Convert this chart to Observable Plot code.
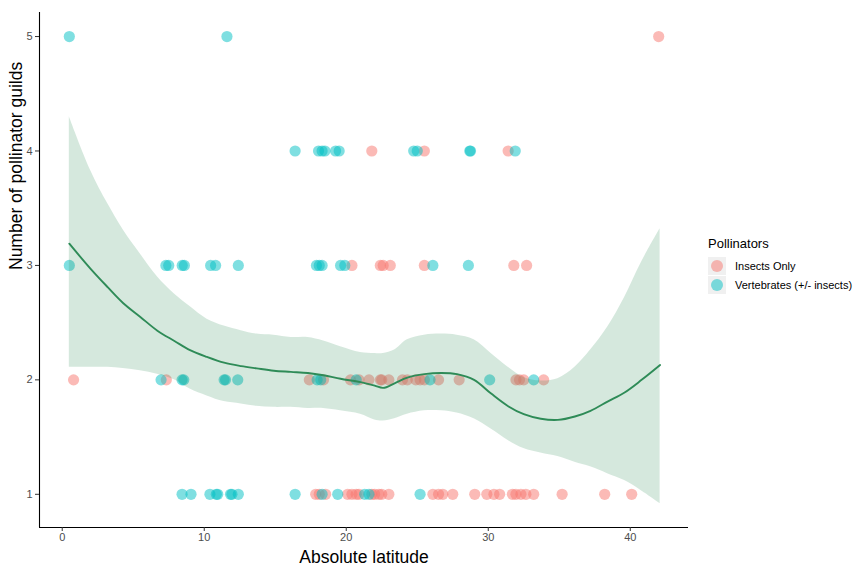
<!DOCTYPE html>
<html>
<head>
<meta charset="utf-8">
<script src="https://cdn.jsdelivr.net/npm/d3@7"></script>
<script src="https://cdn.jsdelivr.net/npm/@observablehq/plot@0.6"></script>
<style>
  html, body { margin: 0; padding: 0; background: #fff; }
  #wrap { position: relative; width: 855px; height: 580px; font-family: "Liberation Sans", Arial, sans-serif; }
  #legend { position: absolute; left: 708px; top: 236px; font-family: "Liberation Sans", Arial, sans-serif; color: #000; }
  #legend .title { font-size: 13px; margin-bottom: 5px; }
  #legend .row { display: flex; align-items: center; height: 19.5px; font-size: 11px; }
  #legend .key { width: 18px; height: 18px; background: #f0f0f0; position: relative; margin-right: 9px; }
  #legend .key span { position: absolute; left: 3px; top: 3px; width: 12px; height: 12px; border-radius: 50%; opacity: 0.5; }
</style>
</head>
<body>
<div id="wrap"></div>
<script>
// Scatter points: absolute latitude by number of pollinator guilds
const insectsLat1 = [17.85, 18.1, 18.55, 20.1, 20.4, 20.7, 20.9, 21.8, 22.0, 22.3, 22.5, 23.0, 26.1, 26.5, 26.8, 27.5, 29.05, 29.9, 30.4, 30.8, 31.7, 31.95, 32.3, 32.65, 33.2, 35.2, 38.2, 40.1];
const insectsLat2 = [0.8, 7.33, 17.4, 18.4, 20.3, 20.9, 21.6, 22.4, 22.5, 23.0, 23.96, 24.3, 24.9, 25.2, 25.5, 26.5, 27.95, 31.95, 32.2, 32.5, 33.9];
const insectsLat3 = [20.4, 22.4, 22.6, 23.1, 25.5, 31.8, 32.7];
const insectsLat4 = [21.8, 25.5, 31.4];
const insectsLat5 = [42.0];

const vertLat1 = [8.44, 9.07, 10.4, 10.85, 10.95, 11.85, 11.95, 12.4, 16.4, 18.3, 19.4, 21.3, 21.6, 25.2];
const vertLat2 = [6.96, 8.44, 8.56, 11.4, 11.5, 12.36, 17.95, 18.2, 20.7, 25.9, 30.1, 33.2];
const vertLat3 = [0.5, 7.3, 7.5, 8.45, 8.6, 10.45, 10.8, 12.4, 17.9, 18.1, 18.3, 19.6, 19.9, 26.1, 28.6];
const vertLat4 = [16.4, 18.05, 18.3, 18.5, 19.25, 19.5, 24.75, 25.0, 28.7, 28.75, 31.9];
const vertLat5 = [0.5, 11.6];

const groups = ["Insects Only", "Vertebrates (+/- insects)"];
const groupColors = ["#F8766D", "#00BFC4"];

// LOESS smooth
const smoothLat = [0.5, 2.0, 3.2, 4.3, 5.5, 6.7, 7.9, 9.0, 10.2, 11.4, 12.6, 13.7, 14.9, 16.1, 17.3, 18.4, 19.6, 21.0, 22.0, 22.6, 23.4, 24.3, 25.5, 26.7, 27.8, 29.0, 30.2, 31.4, 32.5, 33.7, 34.9, 36.1, 37.2, 38.4, 39.6, 40.8, 42.1];
const smoothFit = [3.19, 2.97, 2.81, 2.67, 2.55, 2.43, 2.34, 2.26, 2.20, 2.15, 2.12, 2.10, 2.08, 2.07, 2.06, 2.04, 2.01, 1.98, 1.95, 1.93, 1.97, 2.02, 2.05, 2.06, 2.05, 2.00, 1.88, 1.77, 1.70, 1.66, 1.65, 1.68, 1.73, 1.81, 1.89, 2.00, 2.13];
const smoothHi = [4.30, 3.83, 3.54, 3.31, 3.10, 2.90, 2.75, 2.64, 2.53, 2.47, 2.43, 2.40, 2.39, 2.37, 2.37, 2.34, 2.29, 2.24, 2.23, 2.23, 2.26, 2.35, 2.39, 2.40, 2.39, 2.35, 2.23, 2.11, 2.02, 1.99, 2.01, 2.11, 2.26, 2.46, 2.72, 3.03, 3.32];
const smoothLo = [2.11, 2.11, 2.11, 2.10, 2.08, 2.05, 2.00, 1.92, 1.86, 1.81, 1.79, 1.77, 1.76, 1.76, 1.75, 1.75, 1.73, 1.70, 1.65, 1.64, 1.66, 1.70, 1.73, 1.73, 1.71, 1.66, 1.57, 1.47, 1.40, 1.36, 1.33, 1.28, 1.24, 1.18, 1.12, 1.03, 0.92];

const xTicks = [0, 10, 20, 30, 40];
const yTicks = [1, 2, 3, 4, 5];

// Build tables
const points = [];
[[insectsLat1,1],[insectsLat2,2],[insectsLat3,3],[insectsLat4,4],[insectsLat5,5]].forEach(([arr,g]) => arr.forEach(v => points.push({lat: v, guilds: g, group: groups[0]})));
[[vertLat1,1],[vertLat2,2],[vertLat3,3],[vertLat4,4],[vertLat5,5]].forEach(([arr,g]) => arr.forEach(v => points.push({lat: v, guilds: g, group: groups[1]})));
const smooth = smoothLat.map((x, i) => ({lat: x, fit: smoothFit[i], lo: smoothLo[i], hi: smoothHi[i]}));

const xDomain = [-1.6, 44.1];
const yDomain = [0.71, 5.21];

const chart = Plot.plot({
  width: 855,
  height: 580,
  marginLeft: 39,
  marginRight: 167,
  marginTop: 12,
  marginBottom: 53,
  style: {fontFamily: "'Liberation Sans', Arial, sans-serif", background: "white"},
  x: {domain: xDomain},
  y: {domain: yDomain},
  color: {domain: groups, range: groupColors},
  marks: [
    Plot.dot(points, {x: "lat", y: "guilds", fill: "group", fillOpacity: 0.5, r: 5.6, stroke: null}),
    Plot.areaY(smooth, {x: "lat", y1: "lo", y2: "hi", fill: "#2E8B57", fillOpacity: 0.2, curve: "catmull-rom"}),
    Plot.line(smooth, {x: "lat", y: "fit", stroke: "#2E8B57", strokeWidth: 1.9, curve: "catmull-rom"}),
    Plot.ruleX([xDomain[0]], {y1: yDomain[0], y2: yDomain[1], stroke: "#000", strokeWidth: 1.1}),
    Plot.ruleY([yDomain[0]], {x1: xDomain[0], x2: xDomain[1], stroke: "#000", strokeWidth: 1.1}),
    Plot.axisX(xTicks, {tickSize: 4, tickPadding: 2, fontSize: 11, stroke: "#333", fill: "#4d4d4d", label: null, tickFormat: "d"}),
    Plot.axisY(yTicks, {tickSize: 4, tickPadding: 3, fontSize: 11, stroke: "#333", fill: "#4d4d4d", label: null, tickFormat: "d"}),
    Plot.text(["Absolute latitude"], {frameAnchor: "bottom", dy: 35, fontSize: 17.5, fill: "#000"}),
    Plot.text(["Number of pollinator guilds"], {frameAnchor: "left", dx: -23, rotate: -90, fontSize: 17.5, fill: "#000"})
  ]
});

const wrap = document.getElementById("wrap");
wrap.appendChild(chart);

const legend = document.createElement("div");
legend.id = "legend";
legend.innerHTML = `<div class="title">Pollinators</div>` +
  groups.map((g, i) => `<div class="row"><div class="key"><span style="background:${groupColors[i]}"></span></div>${g}</div>`).join("");
wrap.appendChild(legend);
</script>
</body>
</html>
